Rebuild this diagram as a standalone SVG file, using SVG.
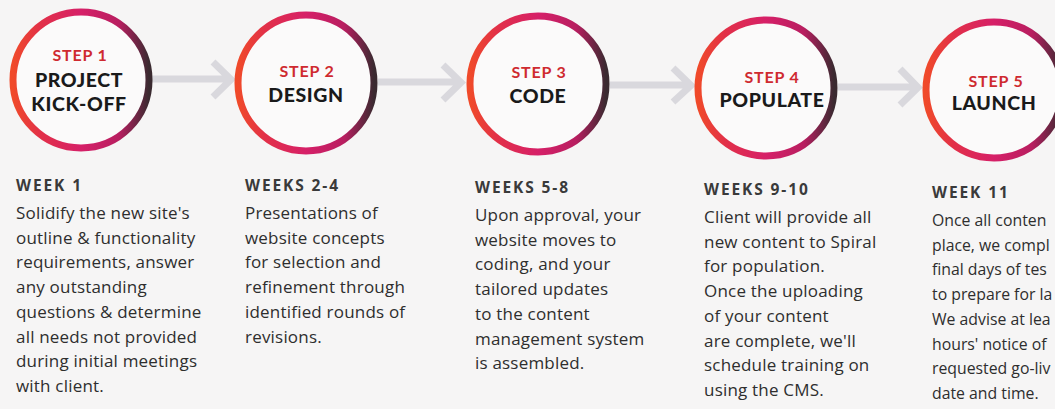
<svg xmlns="http://www.w3.org/2000/svg" width="1055" height="409" viewBox="0 0 1055 409">
<defs>
<linearGradient id="ring" x1="0" y1="0" x2="1" y2="0">
<stop offset="0" stop-color="#f04a2a"/>
<stop offset="0.2" stop-color="#e23048"/>
<stop offset="0.5" stop-color="#d62068"/>
<stop offset="0.78" stop-color="#b81e60"/>
<stop offset="1" stop-color="#3a2a30"/>
</linearGradient>
<style>
.ring{fill:#fbfafa;stroke:url(#ring);stroke-width:7}
.step{font-family:Lato,"Open Sans",sans-serif;font-weight:700;font-size:16px;letter-spacing:0.8px;fill:#cf2a30;text-anchor:middle}
.title{font-family:Lato,"Open Sans",sans-serif;font-weight:900;font-size:19.5px;letter-spacing:0.6px;fill:#1a1a1a;text-anchor:middle}
.wk{font-family:"Open Sans","Noto Sans",sans-serif;font-weight:700;font-size:15.5px;letter-spacing:1.9px;fill:#3a3a3a}
.body{font-family:"Open Sans","Noto Sans",sans-serif;font-size:17px;letter-spacing:0.2px;fill:#2e2e2e}
.b5{font-size:15.8px;letter-spacing:0px}
.arrow{fill:none;stroke:#d9d8dd;stroke-width:7;stroke-linecap:butt;stroke-linejoin:miter}
</style>
</defs>
<rect width="1055" height="409" fill="#f6f5f5"/>
<g id="connectors">
<path class="arrow" d="M152 79 L230 79 M213 62 L231 79.5 L213 97"/>
<path class="arrow" d="M378 82 L461 82 M443 65 L461 82.5 L443 100"/>
<path class="arrow" d="M610 85 L691 85 M673 68 L691 85.5 L673 102"/>
<path class="arrow" d="M838 87 L918 87 M900 69 L918 87.5 L900 105"/>
</g>
<g id="step1">
<circle class="ring" cx="81" cy="80" r="68"/>
<text class="step" x="80" y="61">STEP 1</text>
<text class="title" x="79" y="86.5">PROJECT</text>
<text class="title" x="79" y="110.5">KICK-OFF</text>
<text class="wk" x="16" y="191">WEEK 1</text>
<text class="body" x="16"><tspan x="16" y="219">Solidify the new site's</tspan><tspan x="16" y="243.7">outline &amp; functionality</tspan><tspan x="16" y="268.4">requirements, answer</tspan><tspan x="16" y="293.1">any outstanding</tspan><tspan x="16" y="317.8">questions &amp; determine</tspan><tspan x="16" y="342.5">all needs not provided</tspan><tspan x="16" y="367.2">during initial meetings</tspan><tspan x="16" y="392">with client.</tspan></text>
</g>
<g id="step2">
<circle class="ring" cx="306" cy="83" r="68"/>
<text class="step" x="307" y="77">STEP 2</text>
<text class="title" x="306" y="102">DESIGN</text>
<text class="wk" x="245" y="191">WEEKS 2-4</text>
<text class="body"><tspan x="245" y="219">Presentations of</tspan><tspan x="245" y="243.7">website concepts</tspan><tspan x="245" y="268.4">for selection and</tspan><tspan x="245" y="293.1">refinement through</tspan><tspan x="245" y="317.8">identified rounds of</tspan><tspan x="245" y="342.5">revisions.</tspan></text>
</g>
<g id="step3">
<circle class="ring" cx="538" cy="84" r="68"/>
<text class="step" x="539" y="78">STEP 3</text>
<text class="title" x="538" y="103">CODE</text>
<text class="wk" x="475" y="193">WEEKS 5-8</text>
<text class="body"><tspan x="475" y="221">Upon approval, your</tspan><tspan x="475" y="245.7">website moves to</tspan><tspan x="475" y="270.4">coding, and your</tspan><tspan x="475" y="295.1">tailored updates</tspan><tspan x="475" y="319.8">to the content</tspan><tspan x="475" y="344.5">management system</tspan><tspan x="475" y="369.2">is assembled.</tspan></text>
</g>
<g id="step4">
<circle class="ring" cx="766" cy="88" r="68"/>
<text class="step" x="772" y="83">STEP 4</text>
<text class="title" x="772" y="107">POPULATE</text>
<text class="wk" x="704" y="195">WEEKS 9-10</text>
<text class="body"><tspan x="704" y="223">Client will provide all</tspan><tspan x="704" y="247.7">new content to Spiral</tspan><tspan x="704" y="272.4">for population.</tspan><tspan x="704" y="297.1">Once the uploading</tspan><tspan x="704" y="321.8">of your content</tspan><tspan x="704" y="346.5">are complete, we'll</tspan><tspan x="704" y="371.2">schedule training on</tspan><tspan x="704" y="396">using the CMS.</tspan></text>
</g>
<g id="step5">
<circle class="ring" cx="994" cy="90" r="68"/>
<text class="step" x="996" y="87">STEP 5</text>
<text class="title" x="994" y="110">LAUNCH</text>
<text class="wk" x="932" y="198">WEEK 11</text>
<text class="body b5"><tspan x="932" y="226">Once all conten</tspan><tspan x="932" y="250.7">place, we compl</tspan><tspan x="932" y="275.4">final days of tes</tspan><tspan x="932" y="300.1">to prepare for la</tspan><tspan x="932" y="324.8">We advise at lea</tspan><tspan x="932" y="349.5">hours' notice of</tspan><tspan x="932" y="374.2">requested go-liv</tspan><tspan x="932" y="399">date and time.</tspan></text>
</g>
</svg>
